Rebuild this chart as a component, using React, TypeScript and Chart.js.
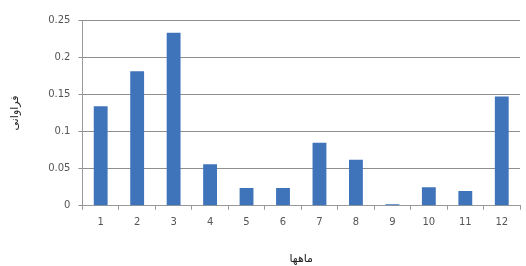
import React, { useEffect, useRef } from "react";
import { Chart, registerables } from "chart.js";

Chart.register(...registerables);

const months = ["1", "2", "3", "4", "5", "6", "7", "8", "9", "10", "11", "12"];
const frequency = [0.134, 0.181, 0.233, 0.056, 0.024, 0.024, 0.085, 0.062, 0.002, 0.025, 0.02, 0.147];
const yTitle = "فراوانی";
const xTitle = "ماهها";

export default function App() {
  const ref = useRef<HTMLCanvasElement | null>(null);
  useEffect(() => {
    document.body.style.margin = "0";
    const ctx = ref.current!.getContext("2d")!;
    const chart = new Chart(ctx, {
      type: "bar",
      data: {
        labels: months,
        datasets: [
          {
            data: frequency,
            backgroundColor: "#3f74ba",
            borderWidth: 0,
            barPercentage: 0.38,
            categoryPercentage: 1,
          },
        ],
      },
      options: {
        responsive: false,
        animation: false,
        devicePixelRatio: 1,
        layout: { padding: { top: 20, right: 6, left: 9, bottom: 0 } },
        plugins: { legend: { display: false }, tooltip: { enabled: false } },
        scales: {
          x: {
            offset: true,
            grid: {
              offset: true,
              drawOnChartArea: false,
              drawTicks: true,
              tickLength: 4,
              color: "#999",
            },
            border: { color: "#999", width: 1 },
            ticks: {
              color: "#555",
              font: { family: "DejaVu Sans", size: 10 },
              padding: 7,
              maxRotation: 0,
            },
            title: {
              display: true,
              text: xTitle,
              color: "#222",
              font: { family: "DejaVu Sans", size: 11 },
              padding: { top: 17, bottom: 0 },
            },
          },
          y: {
            min: 0,
            max: 0.25,
            ticks: {
              stepSize: 0.05,
              color: "#555",
              font: { family: "DejaVu Sans", size: 10 },
              padding: 8,
              callback: (v: any) => String(Math.round(Number(v) * 100) / 100),
            },
            grid: { color: "#8f8f8f", lineWidth: 1, tickLength: 4 },
            border: { color: "#999", width: 1 },
            title: {
              display: true,
              text: yTitle,
              color: "#222",
              font: { family: "DejaVu Sans", size: 11 },
              padding: { top: 0, bottom: 18 },
            },
          },
        },
      },
    });
    return () => chart.destroy();
  }, []);
  return (
    <div style={{ width: 526, height: 266, background: "#fff" }}>
      <canvas ref={ref} width={526} height={266} />
    </div>
  );
}
